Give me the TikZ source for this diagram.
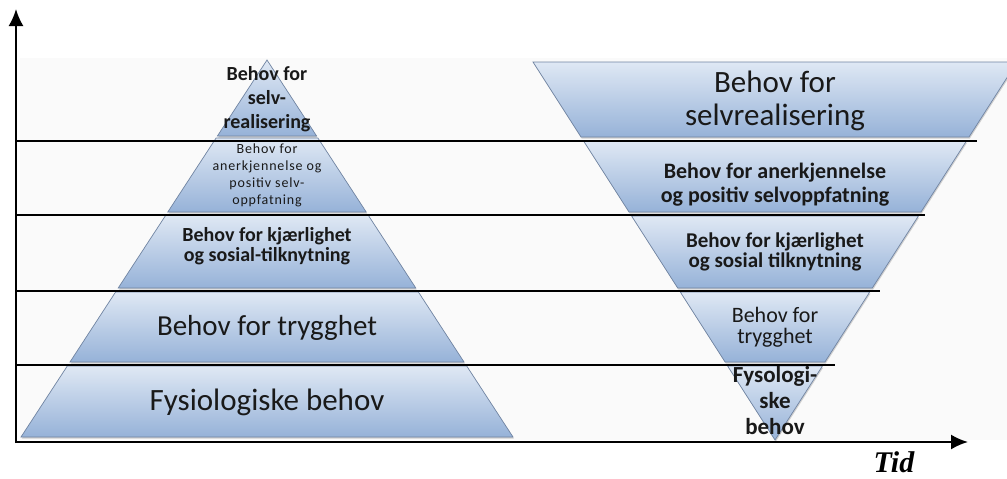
\documentclass[tikz,border=0pt]{standalone}
\usepackage{fontspec}
\setmainfont{Carlito}
\newfontfamily\tidfont{Liberation Serif}
\usetikzlibrary{arrows.meta,shadows}

\definecolor{bandtop}{RGB}{223,232,244}
\definecolor{bandbot}{RGB}{150,178,216}
\definecolor{bandedge}{RGB}{112,132,162}

\newcommand\fsz[2]{\fontsize{#1}{#2}\selectfont}

\tikzset{
  band/.style={top color=bandtop, bottom color=bandbot, draw=bandedge, line width=0.7pt,
    drop shadow={shadow xshift=0.8pt, shadow yshift=-1.6pt, opacity=0.35}},
  levelline/.style={line width=1.8pt, black},
  axisline/.style={line width=2pt, black, -{Latex[length=17pt,width=15pt]}},
  lbl/.style={align=center, inner sep=0pt, text=black!90},
}

\begin{document}
\begin{tikzpicture}[x=1pt,y=-1pt]
\useasboundingbox (0,0) rectangle (1007,479);
\clip (0,0) rectangle (1007,479);
\fill[black!2] (20,58) rectangle (1007,440);

% left pyramid
\path[band] (267,60) -- (316.6,136) -- (217.4,136) -- cycle;
\path[band] (216.1,138) -- (317.9,138) -- (366.2,212) -- (167.8,212) -- cycle;
\path[band] (165.9,215) -- (368.1,215) -- (415.8,288) -- (118.2,288) -- cycle;
\path[band] (115.6,292) -- (418.4,292) -- (464,362) -- (70,362) -- cycle;
\path[band] (67.3,366) -- (466.7,366) -- (513,437) -- (21,437) -- cycle;

% right inverted pyramid
\path[band] (533,62) -- (1017,62) -- (969,137) -- (581,137) -- cycle;
\path[band] (583.6,141) -- (966.4,141) -- (921,212) -- (629,212) -- cycle;
\path[band] (631.6,216) -- (918.4,216) -- (872.3,288) -- (677.7,288) -- cycle;
\path[band] (680.3,292) -- (869.7,292) -- (824.9,362) -- (725.1,362) -- cycle;
\path[band] (727.6,366) -- (822.4,366) -- (775,440) -- cycle;

% level lines
\coordinate (A1) at (16,141); \coordinate (B1) at (977,141);
\coordinate (A2) at (16,215); \coordinate (B2) at (925,215);
\coordinate (A3) at (16,291); \coordinate (B3) at (880,291);
\coordinate (A4) at (16,365); \coordinate (B4) at (835,365);
\draw[levelline] (A1) -- (B1);
\draw[levelline] (A2) -- (B2);
\draw[levelline] (A3) -- (B3);
\draw[levelline] (A4) -- (B4);

% axes
\coordinate (O) at (16,442);
\coordinate (Ytip) at (16,9);
\coordinate (Xtip) at (968,442);
\draw[axisline] ([yshift=-1pt]O) -- (Ytip);
\draw[axisline] ([xshift=-1pt]O) -- (Xtip);

% left labels
\node[lbl, font=\bfseries\fsz{20}{24}] (L1) at (267,99) {Behov for\\selv-\\realisering};
\node[lbl, font=\fsz{14}{17}\addfontfeature{LetterSpace=6}] (L2) at (267,175) {Behov for\\anerkjennelse og\\positiv selv-\\oppfatning};
\node[lbl, font=\bfseries\fsz{20}{19.5}] (L3) at (267,246) {Behov for kjærlighet\\og sosial-tilknytning};
\node[lbl, font=\fsz{29}{30}, anchor=base] (L4) at (267,335) {Behov for trygghet};
\node[lbl, font=\fsz{31}{32}, anchor=base] (L5) at (267,410) {Fysiologiske behov};

% right labels
\node[lbl, font=\fsz{31}{33}] (R1) at (775,101) {Behov for\\selvrealisering};
\node[lbl, font=\bfseries\fsz{22}{24}] (R2) at (775,185) {Behov for anerkjennelse\\og positiv selvoppfatning};
\node[lbl, font=\bfseries\fsz{21}{19.5}] (R3) at (775,252) {Behov for kjærlighet\\og sosial tilknytning};
\node[lbl, font=\fsz{22}{21}] (R4) at (775,327.5) {Behov for\\trygghet};
\node[lbl, font=\bfseries\fsz{23}{26}] (R5) at (775,401) {Fysologi-\\ske\\behov};

% time label
\node[font=\tidfont\bfseries\itshape\fsz{30}{32}, anchor=base, inner sep=0pt] (T) at (894,472) {Tid};
\end{tikzpicture}
\end{document}
